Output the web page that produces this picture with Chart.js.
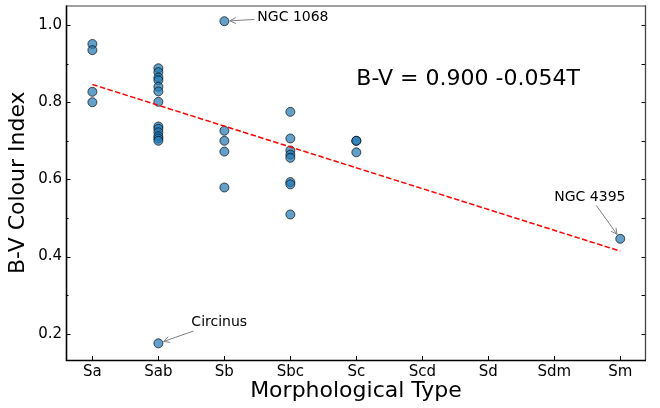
<!DOCTYPE html>
<html><head><meta charset="utf-8">
<script src="https://cdn.jsdelivr.net/npm/chart.js@4/dist/chart.umd.min.js"></script>
<style>html,body{margin:0;padding:0;background:#fff;}#wrap{width:660px;height:408px;}</style>
</head><body><div id="wrap"><canvas id="c" width="660" height="408"></canvas></div>
<script>
const morphTypes = ['Sa','Sab','Sb','Sbc','Sc','Scd','Sd','Sdm','Sm'];
const typeIndex = [0,0,0,0,
  1,1,1,1,1,1,1,1,1,1,1,1,1,1,
  2,2,2,2,2,
  3,3,3,3,3,3,3,3,
  4,4,4,
  8];
const bvColour = [0.951,0.935,0.827,0.800,
  0.888,0.878,0.864,0.857,0.840,0.828,0.801,0.737,0.731,0.722,0.712,0.706,0.700,0.175,
  1.010,0.726,0.700,0.672,0.579,
  0.775,0.706,0.675,0.664,0.656,0.593,0.587,0.509,
  0.700,0.700,0.670,
  0.446];
const fitT = [0, 8];
const fitBV = [0.846, 0.414];
const yMajorTicks = [0.2,0.4,0.6,0.8,1.0];
const yMinorTicks = [0.3,0.5,0.7,0.9];
const equationText = 'B-V = 0.900 -0.054T';
const equationT = 4.0, equationBV = 0.845;
const labelNames = ['NGC 1068','Circinus','NGC 4395'];
const labelPointT = [2, 1, 8];
const labelPointBV = [1.010, 0.175, 0.446];
const labelTextT = [2.5, 1.5, 7.0];
const labelTextBV = [1.01, 0.22, 0.545];

const FONT = '"DejaVu Sans", sans-serif';

const decor = {
  id: 'decor',
  afterDatasetsDraw(chart) {
    const {ctx, chartArea: a, scales: {x, y}} = chart;
    ctx.save();
    ctx.strokeStyle = '#000'; ctx.lineWidth = 1;
    ctx.beginPath();
    morphTypes.forEach((_, i) => {
      const px = Math.round(x.getPixelForValue(i)) + 0.5;
      ctx.moveTo(px, a.bottom); ctx.lineTo(px, a.bottom - 4);
    });
    yMajorTicks.forEach(v => {
      const py = Math.round(y.getPixelForValue(v)) + 0.5;
      ctx.moveTo(a.left, py); ctx.lineTo(a.left + 4.5, py);
      ctx.moveTo(a.right, py); ctx.lineTo(a.right - 4.5, py);
    });
    yMinorTicks.forEach(v => {
      const py = Math.round(y.getPixelForValue(v)) + 0.5;
      ctx.moveTo(a.left, py); ctx.lineTo(a.left + 2.5, py);
      ctx.moveTo(a.right, py); ctx.lineTo(a.right - 4.5, py);
    });
    ctx.stroke();
    ctx.lineWidth = 1.3; ctx.strokeStyle = '#808080';
    ctx.beginPath(); ctx.moveTo(a.left, a.top + 0.5); ctx.lineTo(a.right, a.top + 0.5); ctx.stroke();
    ctx.strokeStyle = '#444';
    ctx.beginPath(); ctx.moveTo(a.right - 0.5, a.top); ctx.lineTo(a.right - 0.5, a.bottom); ctx.stroke();
    ctx.lineWidth = 1.6; ctx.strokeStyle = '#000';
    ctx.beginPath(); ctx.moveTo(a.left + 0.5, a.top); ctx.lineTo(a.left + 0.5, a.bottom + 0.5);
    ctx.lineTo(a.right, a.bottom + 0.5); ctx.stroke();
    ctx.fillStyle = '#000';
    ctx.font = '22px ' + FONT;
    ctx.textBaseline = 'alphabetic'; ctx.textAlign = 'left';
    ctx.fillText(equationText, x.getPixelForValue(equationT), y.getPixelForValue(equationBV));
    ctx.font = '14px ' + FONT;
    labelNames.forEach((name, i) => {
      const tx = x.getPixelForValue(labelTextT[i]);
      const ty = y.getPixelForValue(labelTextBV[i]);
      ctx.fillStyle = '#000';
      ctx.fillText(name, tx, ty);
      const w = ctx.measureText(name).width;
      const bx0 = tx - 3, bx1 = tx + w + 3, by0 = ty - 13, by1 = ty + 5;
      const cx = (bx0 + bx1) / 2, cy = (by0 + by1) / 2;
      const px = x.getPixelForValue(labelPointT[i]);
      const py = y.getPixelForValue(labelPointBV[i]);
      const dx = px - cx, dy = py - cy;
      let t = 1;
      if (dx !== 0) t = Math.min(t, Math.abs((dx > 0 ? bx1 - cx : bx0 - cx) / dx));
      if (dy !== 0) t = Math.min(t, Math.abs((dy > 0 ? by1 - cy : by0 - cy) / dy));
      const sx = cx + dx * t, sy = cy + dy * t;
      const len = Math.hypot(px - sx, py - sy);
      const ux = (px - sx) / len, uy = (py - sy) / len;
      const ex = px - ux * 5.5, ey = py - uy * 5.5;
      ctx.strokeStyle = '#808080'; ctx.lineWidth = 1;
      ctx.beginPath(); ctx.moveTo(sx, sy); ctx.lineTo(ex, ey);
      const hl = 6, hw = 3;
      ctx.moveTo(ex - ux * hl - uy * hw, ey - uy * hl + ux * hw);
      ctx.lineTo(ex, ey);
      ctx.lineTo(ex - ux * hl + uy * hw, ey - uy * hl - ux * hw);
      ctx.stroke();
    });
    ctx.restore();
  }
};

new Chart(document.getElementById('c'), {
  type: 'scatter',
  data: {
    datasets: [
      {
        type: 'line',
        data: fitT.map((t, i) => ({x: t, y: fitBV[i]})),
        borderColor: '#ff0000', borderWidth: 1.5, borderDash: [5.5, 2.4],
        pointRadius: 0, fill: false, order: 0
      },
      {
        data: typeIndex.map((t, i) => ({x: t, y: bvColour[i]})),
        backgroundColor: 'rgba(31,119,180,0.7)',
        borderColor: 'rgba(0,0,0,0.65)', borderWidth: 1,
        pointRadius: 4.5, order: 1
      }
    ]
  },
  options: {
    responsive: false, animation: false, devicePixelRatio: 1,
    layout: {padding: {left: 0, right: 14, top: 3, bottom: 0}},
    plugins: {legend: {display: false}, tooltip: {enabled: false}},
    scales: {
      x: {
        type: 'linear', min: -0.4, max: 8.39,
        afterBuildTicks: s => { s.ticks = morphTypes.map((_, i) => ({value: i})); },
        afterFit: s => { s.height = 48; s.paddingLeft = 0; s.paddingRight = 0; },
        grid: {display: false, drawTicks: false}, border: {display: false},
        ticks: {callback: v => morphTypes[v], color: '#000', padding: 3, maxRotation: 0, autoSkip: false,
          font: {family: FONT, size: 15}},
        title: {display: true, text: 'Morphological Type', color: '#000',
          font: {family: FONT, size: 22}, padding: {top: 0, bottom: 4}}
      },
      y: {
        type: 'linear', min: 0.1318, max: 1.0507,
        afterBuildTicks: s => { s.ticks = yMajorTicks.map(v => ({value: v})); },
        afterFit: s => { s.width = 66; s.paddingTop = 0; s.paddingBottom = 0; },
        grid: {display: false, drawTicks: false}, border: {display: false},
        ticks: {callback: v => v.toFixed(1), color: '#000', padding: 4,
          font: {family: FONT, size: 15}},
        title: {display: true, text: 'B-V Colour Index', color: '#000',
          font: {family: FONT, size: 22}, padding: {top: 5, bottom: 0}}
      }
    }
  },
  plugins: [decor]
});
</script></body></html>
